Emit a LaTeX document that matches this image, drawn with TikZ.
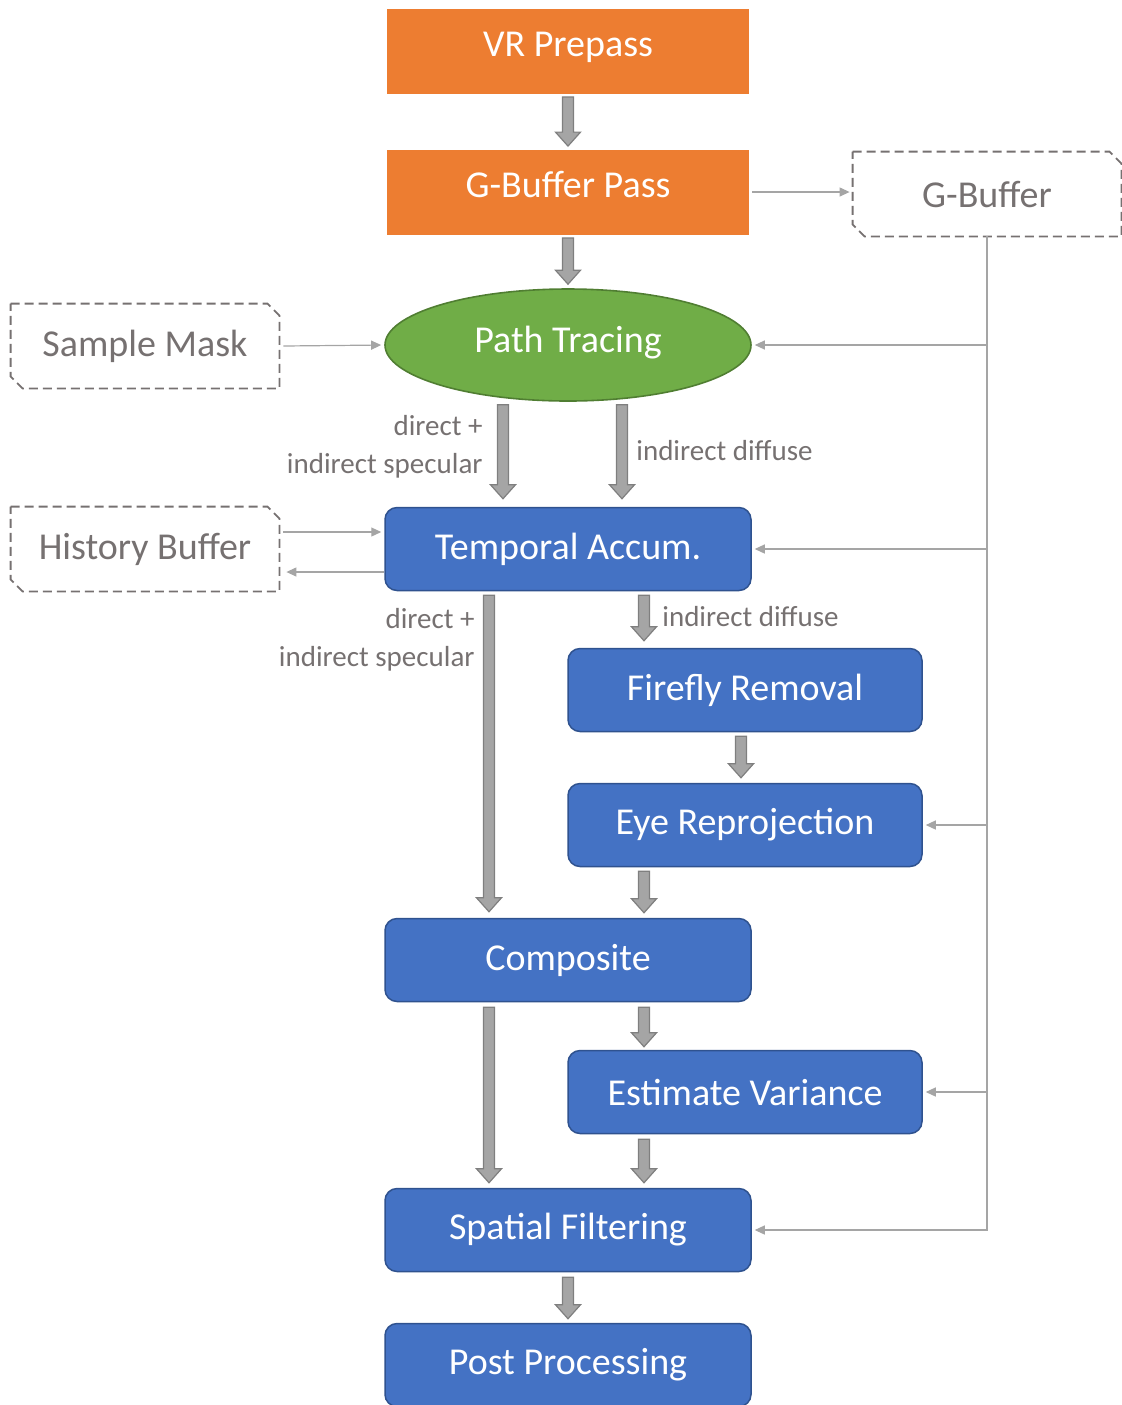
\documentclass[tikz,border=0pt]{standalone}
\usepackage{fontspec}
\setmainfont{Carlito}
\usetikzlibrary{arrows.meta}
\usetikzlibrary{shapes}
\usetikzlibrary{calc}

\definecolor{passorange}{HTML}{ED7D31}
\definecolor{tracegreen}{HTML}{70AD47}
\definecolor{traceedge}{HTML}{507E32}
\definecolor{stageblue}{HTML}{4472C4}
\definecolor{stageedge}{HTML}{2F528F}
\definecolor{flowfill}{HTML}{A5A5A5}
\definecolor{flowedge}{HTML}{7F7F7F}
\definecolor{buftext}{HTML}{767171}

\tikzset{
  pass/.style={rectangle, fill=passorange, text=white, minimum width=181pt, minimum height=42.5pt, text height=14pt, text depth=9pt, font=\fontsize{19}{23}\selectfont},
  trace/.style={ellipse, draw=traceedge, line width=0.8pt, fill=tracegreen, text=white, minimum width=183pt, minimum height=56pt, text height=14pt, text depth=7pt, font=\fontsize{19}{23}\selectfont},
  stage/.style={rectangle, rounded corners=6pt, draw=stageedge, line width=0.75pt, fill=stageblue, text=white, minimum width=183pt, minimum height=41.5pt, font=\fontsize{19}{23}\selectfont},
  snipline/.style={draw=buftext, dash pattern=on 4.5pt off 2.5pt, line width=0.9pt},
  buffer/.style={rectangle, minimum width=134pt, minimum height=42pt, text=buftext, font=\fontsize{19}{23}\selectfont,
    append after command={\pgfextra{\draw[snipline] (\tikzlastnode.north west) -- ([xshift=-6pt]\tikzlastnode.north east)
      -- ([yshift=-6pt]\tikzlastnode.north east) -- (\tikzlastnode.south east) -- ([xshift=6pt]\tikzlastnode.south west)
      -- ([yshift=6pt]\tikzlastnode.south west) -- cycle;}}},
  lbl/.style={text=buftext, inner sep=0pt, font=\fontsize{14.5}{19}\selectfont},
  feed/.style={draw=flowfill, line width=0.6pt, -{Triangle[length=5pt,width=4.5pt]}, shorten >=1.5pt},
  bigarrow/.style={draw=flowedge, fill=flowfill, line width=0.6pt, line join=miter,
    to path={let \p1=(\tikztostart), \p2=(\tikztotarget) in
      (\x1-2.75pt,\y1) -- (\x1+2.75pt,\y1) -- (\x1+2.75pt,\y2+7pt) -- (\x1+6.25pt,\y2+7pt)
      -- (\x1,\y2) -- (\x1-6.25pt,\y2+7pt) -- (\x1-2.75pt,\y2+7pt) -- cycle}}
}

\begin{document}
\begin{tikzpicture}[x=0.5pt, y=-0.5pt]
	\useasboundingbox (0,0) rectangle (1122,1405);
	%Passes
	\node [pass] (vr) at (568,51) {VR Prepass};
	\node [pass] (gbp) at (568,192) {G-Buffer Pass};
	\draw[bigarrow] ([yshift=-1.5pt]vr.south) to ([yshift=1.5pt]gbp.north);
	%Buffers
	\node [buffer] (gbuf) at (987,194) {G-Buffer};
	\node [buffer] (mask) at (145,346) {Sample Mask};
	\node [buffer] (hist) at (145,549) {History Buffer};
	\draw[feed] ([xshift=1.5pt]gbp.east) -- (gbp.east -| gbuf.west);
	%Path tracing
	\node [trace] (trace) at (568,345) {Path Tracing};
	\draw[bigarrow] ([yshift=-1.5pt]gbp.south) to ([yshift=2pt]trace.north);
	\draw[feed] ([xshift=2pt]mask.east) -- (trace.west);
	%Temporal
	\node [stage] (temp) at (568,549) {Temporal Accum.};
	\draw[bigarrow] ([xshift=-32.5pt,yshift=-1.5pt]trace.south) to ([yshift=4pt]temp.north);
	\draw[bigarrow] ([xshift=27pt,yshift=-1.5pt]trace.south) to ([yshift=4pt]temp.north);
	\node [lbl, anchor=east, align=right] (dsl1) at (483,447) {direct +\\indirect specular};
	\node [lbl, anchor=west] (idl1) at (636,451) {indirect diffuse};
	\draw[feed] ([xshift=2pt,yshift=8.5pt]hist.east) -- ([yshift=8.5pt]hist.east -| temp.west);
	\draw[feed] ([yshift=-11.5pt]hist.east -| temp.west) -- ([xshift=2pt,yshift=-11.5pt]hist.east);
	%Diffuse branch
	\node [stage, minimum width=177pt] (fire) at (745,690) {Firefly Removal};
	\node [stage, minimum width=177pt] (eye) at (745,825) {Eye Reprojection};
	\draw[bigarrow] ([xshift=38pt,yshift=-2pt]temp.south) to ([yshift=3.5pt]fire.north);
	\node [lbl, anchor=west] (idl2) at (662,617) {indirect diffuse};
	\draw[bigarrow] ([xshift=-2pt,yshift=-2pt]fire.south) to ([yshift=2.5pt]eye.north);
	%Composite
	\node [stage] (comp) at (568,960) {Composite};
	\draw[bigarrow] ([xshift=-39.5pt,yshift=-2pt]temp.south) to ([yshift=3pt]comp.north);
	\node [lbl, anchor=east, align=right] (dsl2) at (475,640) {direct +\\indirect specular};
	\draw[bigarrow] ([xshift=-50.5pt,yshift=-2pt]eye.south) to ([yshift=2.5pt]comp.north);
	\node [stage, minimum width=177pt] (est) at (745,1092) {Estimate Variance};
	\draw[bigarrow] ([xshift=38pt,yshift=-2.5pt]comp.south) to ([yshift=1.5pt]est.north);
	%Spatial
	\node [stage] (spat) at (568,1230) {Spatial Filtering};
	\draw[bigarrow] ([xshift=-39.5pt,yshift=-2.5pt]comp.south) to ([yshift=2.5pt]spat.north);
	\draw[bigarrow] ([xshift=-50.5pt,yshift=-2.5pt]est.south) to ([yshift=2.5pt]spat.north);
	\node [stage] (post) at (568,1365) {Post Processing};
	\draw[bigarrow] ([yshift=-2.5pt]spat.south) to ([yshift=2pt]post.north);
	%G-Buffer feeds
	\draw[feed] (gbuf.south) |- (spat.east);
	\draw[feed] (gbuf.south |- trace.east) -- (trace.east);
	\draw[feed] (gbuf.south |- temp.east) -- (temp.east);
	\draw[feed] (gbuf.south |- eye.east) -- (eye.east);
	\draw[feed] (gbuf.south |- est.east) -- (est.east);
\end{tikzpicture}
\end{document}
